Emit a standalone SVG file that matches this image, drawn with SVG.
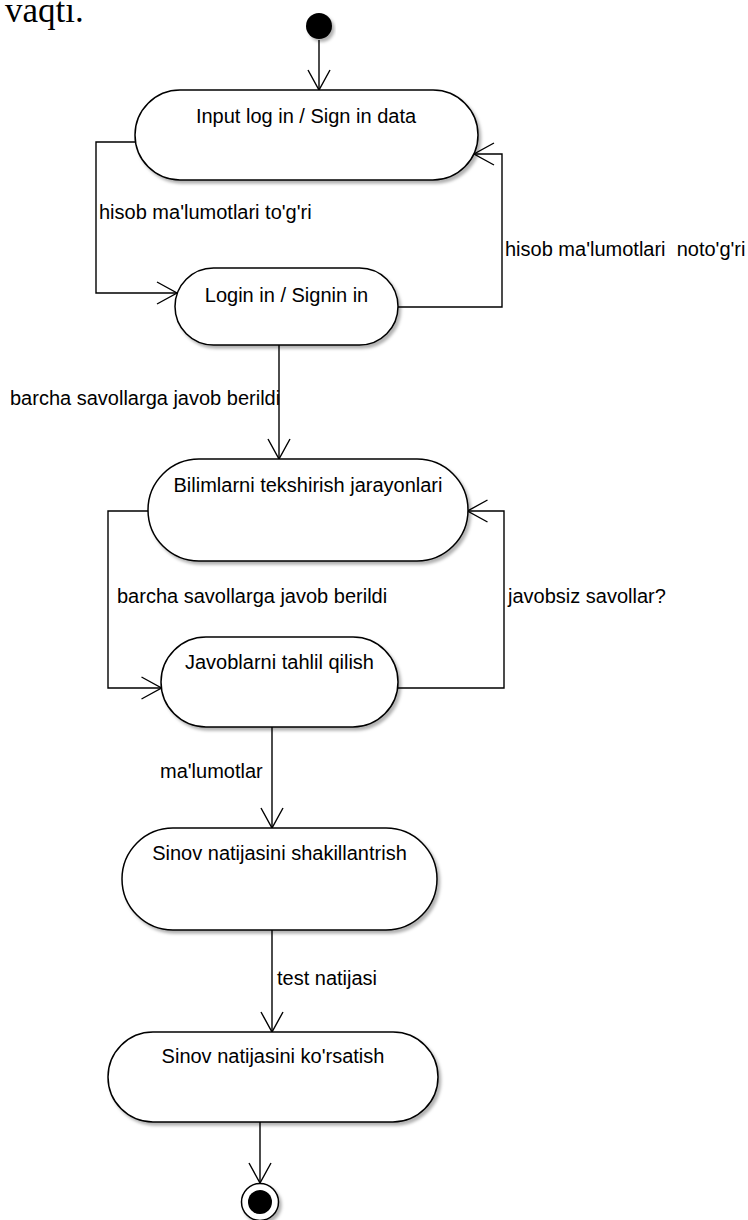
<svg xmlns="http://www.w3.org/2000/svg" width="748" height="1220" viewBox="0 0 748 1220">
  <style>
    .node { fill: #fff; stroke: #000; stroke-width: 1.5; filter: url(#shadow); }
    .ntext { font-family: "Liberation Sans", Arial, sans-serif; font-size: 20px; fill: #000; text-anchor: middle; }
    .label { font-family: "Liberation Sans", Arial, sans-serif; font-size: 20px; fill: #000; }
    .edge { fill: none; stroke: #000; stroke-width: 1.4; marker-end: url(#open); }
  </style>
  <defs>
    <filter id="shadow" x="-10%" y="-10%" width="125%" height="135%">
      <feDropShadow dx="2.5" dy="3" stdDeviation="1.5" flood-color="#000" flood-opacity="0.3"/>
    </filter>
    <marker id="open" viewBox="-24 -13 26 26" refX="0" refY="0" markerWidth="26" markerHeight="26" orient="auto" markerUnits="userSpaceOnUse" overflow="visible">
      <path d="M-20,-11 L0,0 L-20,11" fill="none" stroke="#000" stroke-width="1.4"/>
    </marker>
  </defs>
  <rect width="748" height="1220" fill="#fff"/>

  <!-- trailing word of the preceding paragraph -->
  <text x="5" y="22" font-family="Liberation Serif, 'Times New Roman', serif" font-size="35" fill="#000">vaqtı.</text>

  <!-- transitions -->
  <g id="connectors">
    <path class="edge" d="M319,40 V90"/>
    <path class="edge" d="M135.5,142 H96 V293 H177"/>
    <path class="edge" d="M398,307 H502 V154 H474"/>
    <path class="edge" d="M279,345 V459"/>
    <path class="edge" d="M148,511 H108 V688 H161.5"/>
    <path class="edge" d="M397.5,688 H504 V511 H467.5"/>
    <path class="edge" d="M272,727 V828"/>
    <path class="edge" d="M272,930 V1032"/>
    <path class="edge" d="M260,1122 V1183"/>
    <text class="label" x="99" y="219">hisob ma'lumotlari to'g'ri</text>
    <text class="label" x="505" y="256" xml:space="preserve">hisob ma'lumotlari  noto'g'ri</text>
    <text class="label" x="10" y="405">barcha savollarga javob berildi</text>
    <text class="label" x="117" y="603">barcha savollarga javob berildi</text>
    <text class="label" x="508" y="603">javobsiz savollar?</text>
    <text class="label" x="160" y="778">ma'lumotlar</text>
    <text class="label" x="277" y="985">test natijasi</text>
  </g>

  <!-- initial state -->
  <g id="start">
    <circle cx="319" cy="26" r="13" fill="#000" filter="url(#shadow)"/>
  </g>

  <g id="input-data">
    <rect class="node" x="135" y="90" width="343" height="90" rx="45" ry="45"/>
    <text class="ntext" x="306" y="123">Input log in / Sign in data</text>
  </g>

  <g id="login">
    <rect class="node" x="175" y="268" width="223" height="77" rx="38.5" ry="38.5"/>
    <text class="ntext" x="286.5" y="302">Login in / Signin in</text>
  </g>

  <g id="checking">
    <rect class="node" x="148" y="459" width="320" height="102" rx="51" ry="51"/>
    <text class="ntext" x="308" y="492">Bilimlarni tekshirish jarayonlari</text>
  </g>

  <g id="analysis">
    <rect class="node" x="161" y="637" width="237" height="90" rx="45" ry="45"/>
    <text class="ntext" x="279.5" y="669">Javoblarni tahlil qilish</text>
  </g>

  <g id="build-result">
    <rect class="node" x="122" y="828" width="315" height="102" rx="51" ry="51"/>
    <text class="ntext" x="279.5" y="860">Sinov natijasini shakillantrish</text>
  </g>

  <g id="show-result">
    <rect class="node" x="108" y="1032" width="330" height="90" rx="45" ry="45"/>
    <text class="ntext" x="273" y="1063">Sinov natijasini ko'rsatish</text>
  </g>

  <!-- final state -->
  <g id="end">
    <circle cx="260" cy="1202" r="18.5" fill="#fff" stroke="#000" stroke-width="1.5" filter="url(#shadow)"/>
    <circle cx="260" cy="1202" r="12" fill="#000"/>
  </g>
</svg>
